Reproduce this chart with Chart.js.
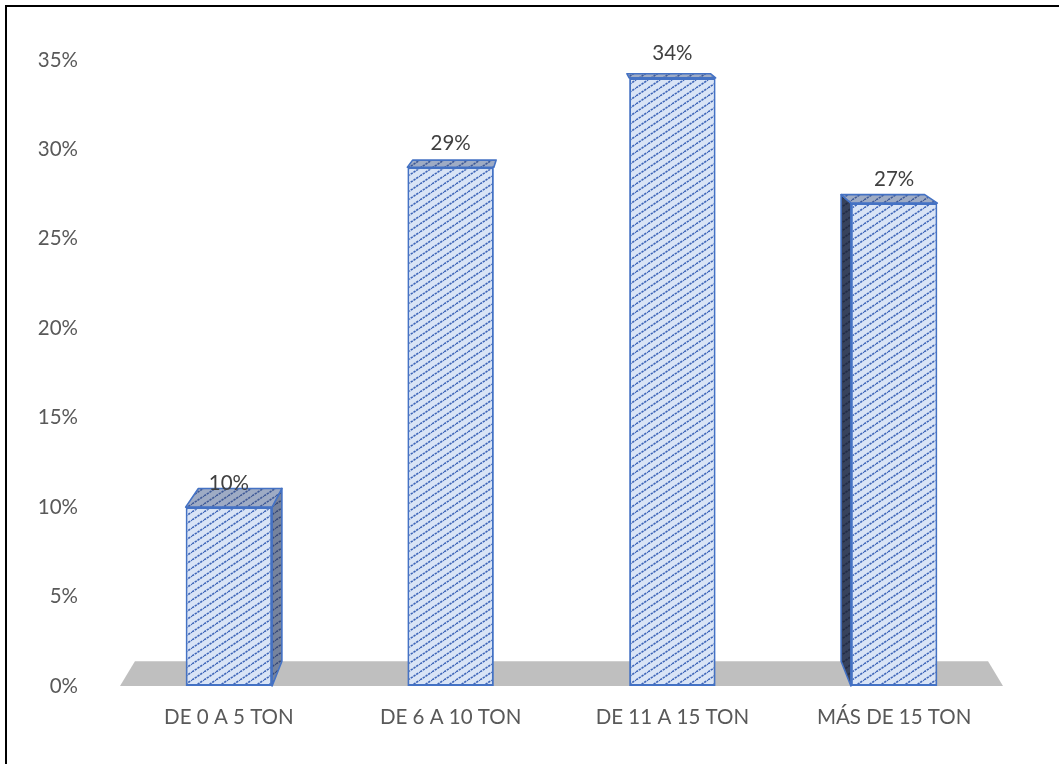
<!DOCTYPE html>
<html>
<head>
<meta charset="utf-8">
<script src="https://cdn.jsdelivr.net/npm/chart.js@4.4.1/dist/chart.umd.min.js"></script>
<style>
  html, body { margin: 0; padding: 0; background: #ffffff; }
  #wrap { position: relative; width: 1059px; height: 764px; }
</style>
</head>
<body>
<div id="wrap"><canvas id="c" width="1059" height="764"></canvas></div>
<script>
// Distribution of vehicles by load capacity
const categories = ['DE 0 A 5 TON', 'DE 6 A 10 TON', 'DE 11 A 15 TON', 'MÁS DE 15 TON'];
const shares = [0.10, 0.29, 0.34, 0.27];
const valueLabels = ['10%', '29%', '34%', '27%'];
const yTickLabels = ['0%', '5%', '10%', '15%', '20%', '25%', '30%', '35%'];

const FONT = 'Lato, "Open Sans", sans-serif';
const FONT_SIZE = 20.5;

// Diagonal hatch tile used for the column faces
function hatch(bg, fg, lw) {
  const t = document.createElement('canvas');
  t.width = 12; t.height = 8;
  const g = t.getContext('2d');
  g.fillStyle = bg;
  g.fillRect(0, 0, 12, 8);
  g.strokeStyle = fg;
  g.lineWidth = lw;
  g.setLineDash([2.4, 0.9]);
  for (const dx of [-12, 0, 12]) {
    g.beginPath();
    g.moveTo(dx, 8);
    g.lineTo(dx + 12, 0);
    g.stroke();
  }
  return g.createPattern(t, 'repeat');
}
const frontFill = hatch('#d9e4f6', '#3f66b8', 1.6);
const topFill = hatch('#9eabc4', '#3f5a98', 1.6);
const rightSideFill = hatch('#76839d', '#36497a', 1.6);
const leftSideFill = hatch('#37425c', '#222b44', 1.6);

// Simple one-point perspective toward a vanishing point above the plot
const DEPTH = 0.0338;
function vanish(chart) {
  const a = chart.chartArea;
  return { x: (a.left + a.right) / 2, y: a.top - 106 };
}
function back(vp, x, y) {
  return [x + DEPTH * (vp.x - x), y + DEPTH * (vp.y - y)];
}
function poly(ctx, pts, fill, stroke) {
  ctx.beginPath();
  ctx.moveTo(pts[0][0], pts[0][1]);
  for (let i = 1; i < pts.length; i++) ctx.lineTo(pts[i][0], pts[i][1]);
  ctx.closePath();
  ctx.fillStyle = fill;
  ctx.fill();
  if (stroke) {
    ctx.strokeStyle = stroke;
    ctx.lineWidth = 1.6;
    ctx.lineJoin = 'round';
    ctx.stroke();
  }
}

const framePlugin = {
  id: 'frame',
  beforeDraw(chart) {
    const c = chart.ctx;
    c.save();
    c.fillStyle = '#000';
    c.fillRect(5, 5, chart.width - 5, 2);
    c.fillRect(5, 5, 2, chart.height - 5);
    c.restore();
  }
};

const floorAndDepthPlugin = {
  id: 'floorAndDepth',
  beforeDatasetsDraw(chart) {
    const c = chart.ctx;
    const a = chart.chartArea;
    const vp = vanish(chart);
    const y0 = chart.scales.y.getPixelForValue(0);
    const fl = a.left + 2, fr = a.right - 2;
    c.save();
    poly(c, [[fl, y0], [fr, y0], back(vp, fr, y0), back(vp, fl, y0)], '#bfbfbf', null);

    const meta = chart.getDatasetMeta(0);
    meta.data.forEach((bar) => {
      const p = bar.getProps(['x', 'y', 'width', 'base'], true);
      const L = p.x - p.width / 2, R = p.x + p.width / 2;
      const T = p.y, B = p.base;
      const bl = back(vp, L, T), br = back(vp, R, T);
      if (br[0] > R + 5) {
        poly(c, [[R, T], br, back(vp, R, B), [R, B]], rightSideFill, '#4472c4');
      }
      if (bl[0] < L - 5) {
        poly(c, [[L, T], bl, back(vp, L, B), [L, B]], leftSideFill, '#4472c4');
      }
      poly(c, [[L, T], [R, T], br, bl], topFill, '#4472c4');
    });
    c.restore();
  },
  afterDatasetsDraw(chart) {
    const c = chart.ctx;
    const meta = chart.getDatasetMeta(0);
    c.save();
    c.font = FONT_SIZE + 'px ' + FONT;
    c.fillStyle = '#404040';
    c.textAlign = 'center';
    c.textBaseline = 'middle';
    meta.data.forEach((bar, i) => {
      c.fillText(valueLabels[i], bar.x, bar.y - 24);
    });
    c.restore();
  }
};

new Chart(document.getElementById('c'), {
  type: 'bar',
  data: {
    labels: categories,
    datasets: [{
      data: shares,
      backgroundColor: frontFill,
      borderColor: '#4472c4',
      borderWidth: 2,
      borderSkipped: false,
      categoryPercentage: 1,
      barPercentage: 0.39
    }]
  },
  options: {
    responsive: false,
    animation: false,
    devicePixelRatio: 1,
    layout: { padding: { left: 0, right: 54, top: 60, bottom: 0 } },
    plugins: { legend: { display: false }, tooltip: { enabled: false } },
    scales: {
      x: {
        grid: { display: false, drawTicks: false },
        border: { display: false },
        ticks: { color: '#595959', font: { family: FONT, size: FONT_SIZE }, padding: 19, maxRotation: 0 },
        afterFit(s) { s.height = 78; }
      },
      y: {
        min: 0,
        max: 0.35,
        grid: { display: false, drawTicks: false },
        border: { display: false },
        ticks: {
          stepSize: 0.05,
          color: '#595959',
          font: { family: FONT, size: FONT_SIZE },
          padding: 40,
          callback: (v, i) => yTickLabels[i]
        },
        afterFit(s) { s.width = 118; }
      }
    }
  },
  plugins: [framePlugin, floorAndDepthPlugin]
});
</script>
</body>
</html>
